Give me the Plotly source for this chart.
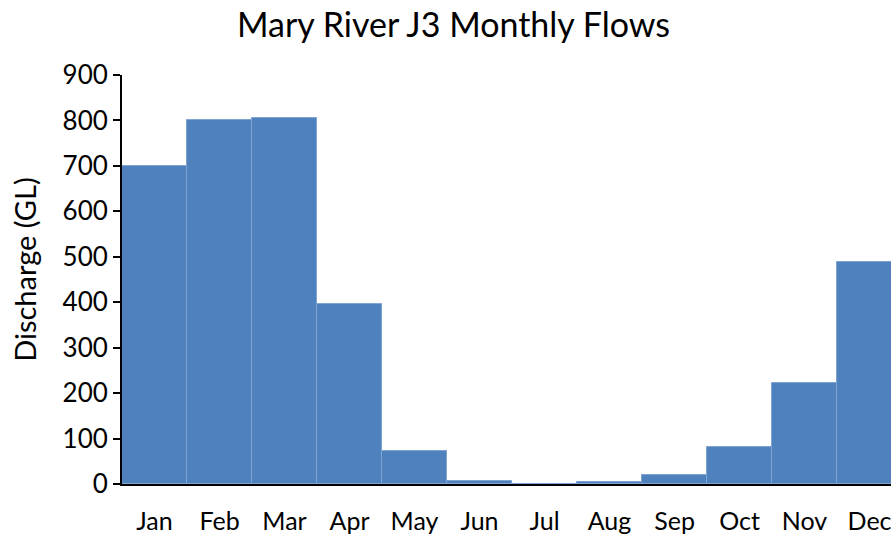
import plotly.graph_objects as go

months = ["Jan", "Feb", "Mar", "Apr", "May", "Jun", "Jul", "Aug", "Sep", "Oct", "Nov", "Dec"]
discharge_gl = [700, 800, 805, 395, 73, 6, 1, 4, 20, 82, 222, 488]
y_ticks = [0, 100, 200, 300, 400, 500, 600, 700, 800, 900]

FONT = "Lato, Carlito, Calibri, sans-serif"

fig = go.Figure(
    go.Bar(
        x=list(range(len(months))),
        y=discharge_gl,
        marker=dict(color="#4F81BD", line=dict(color="#7FA3D3", width=1)),
        hoverinfo="x+y",
    )
)

fig.update_layout(
    width=891,
    height=536,
    margin=dict(l=122, r=0, t=75, b=52),
    paper_bgcolor="white",
    plot_bgcolor="white",
    bargap=0,
    showlegend=False,
    font=dict(family=FONT, color="#000000", size=25),
    title=dict(
        text="Mary River J3 Monthly Flows",
        x=0.509,
        xanchor="center",
        y=0.953,
        yanchor="middle",
        font=dict(family=FONT, size=34, color="#000000"),
    ),
    annotations=[
        dict(
            text="Discharge (GL)",
            textangle=-90,
            xref="paper",
            yref="paper",
            x=-0.126,
            y=0.524,
            xanchor="center",
            yanchor="middle",
            showarrow=False,
            font=dict(family=FONT, size=29, color="#000000"),
        )
    ],
)

fig.update_xaxes(
    range=[-0.5, 11.33],
    tickmode="array",
    tickvals=list(range(len(months))),
    ticktext=months,
    showline=True,
    linecolor="#000000",
    linewidth=2,
    ticks="",
    showgrid=False,
    zeroline=False,
    tickfont=dict(family=FONT, size=25),
    ticklabelstandoff=14,
    ticklabeloverflow="allow",
)

fig.update_yaxes(
    range=[0, 900],
    tickmode="array",
    tickvals=y_ticks,
    showline=True,
    linecolor="#000000",
    linewidth=2,
    ticks="outside",
    ticklen=7,
    tickwidth=2,
    tickcolor="#000000",
    showgrid=False,
    zeroline=False,
    tickfont=dict(family=FONT, size=26),
)

fig.write_html("out.html")
